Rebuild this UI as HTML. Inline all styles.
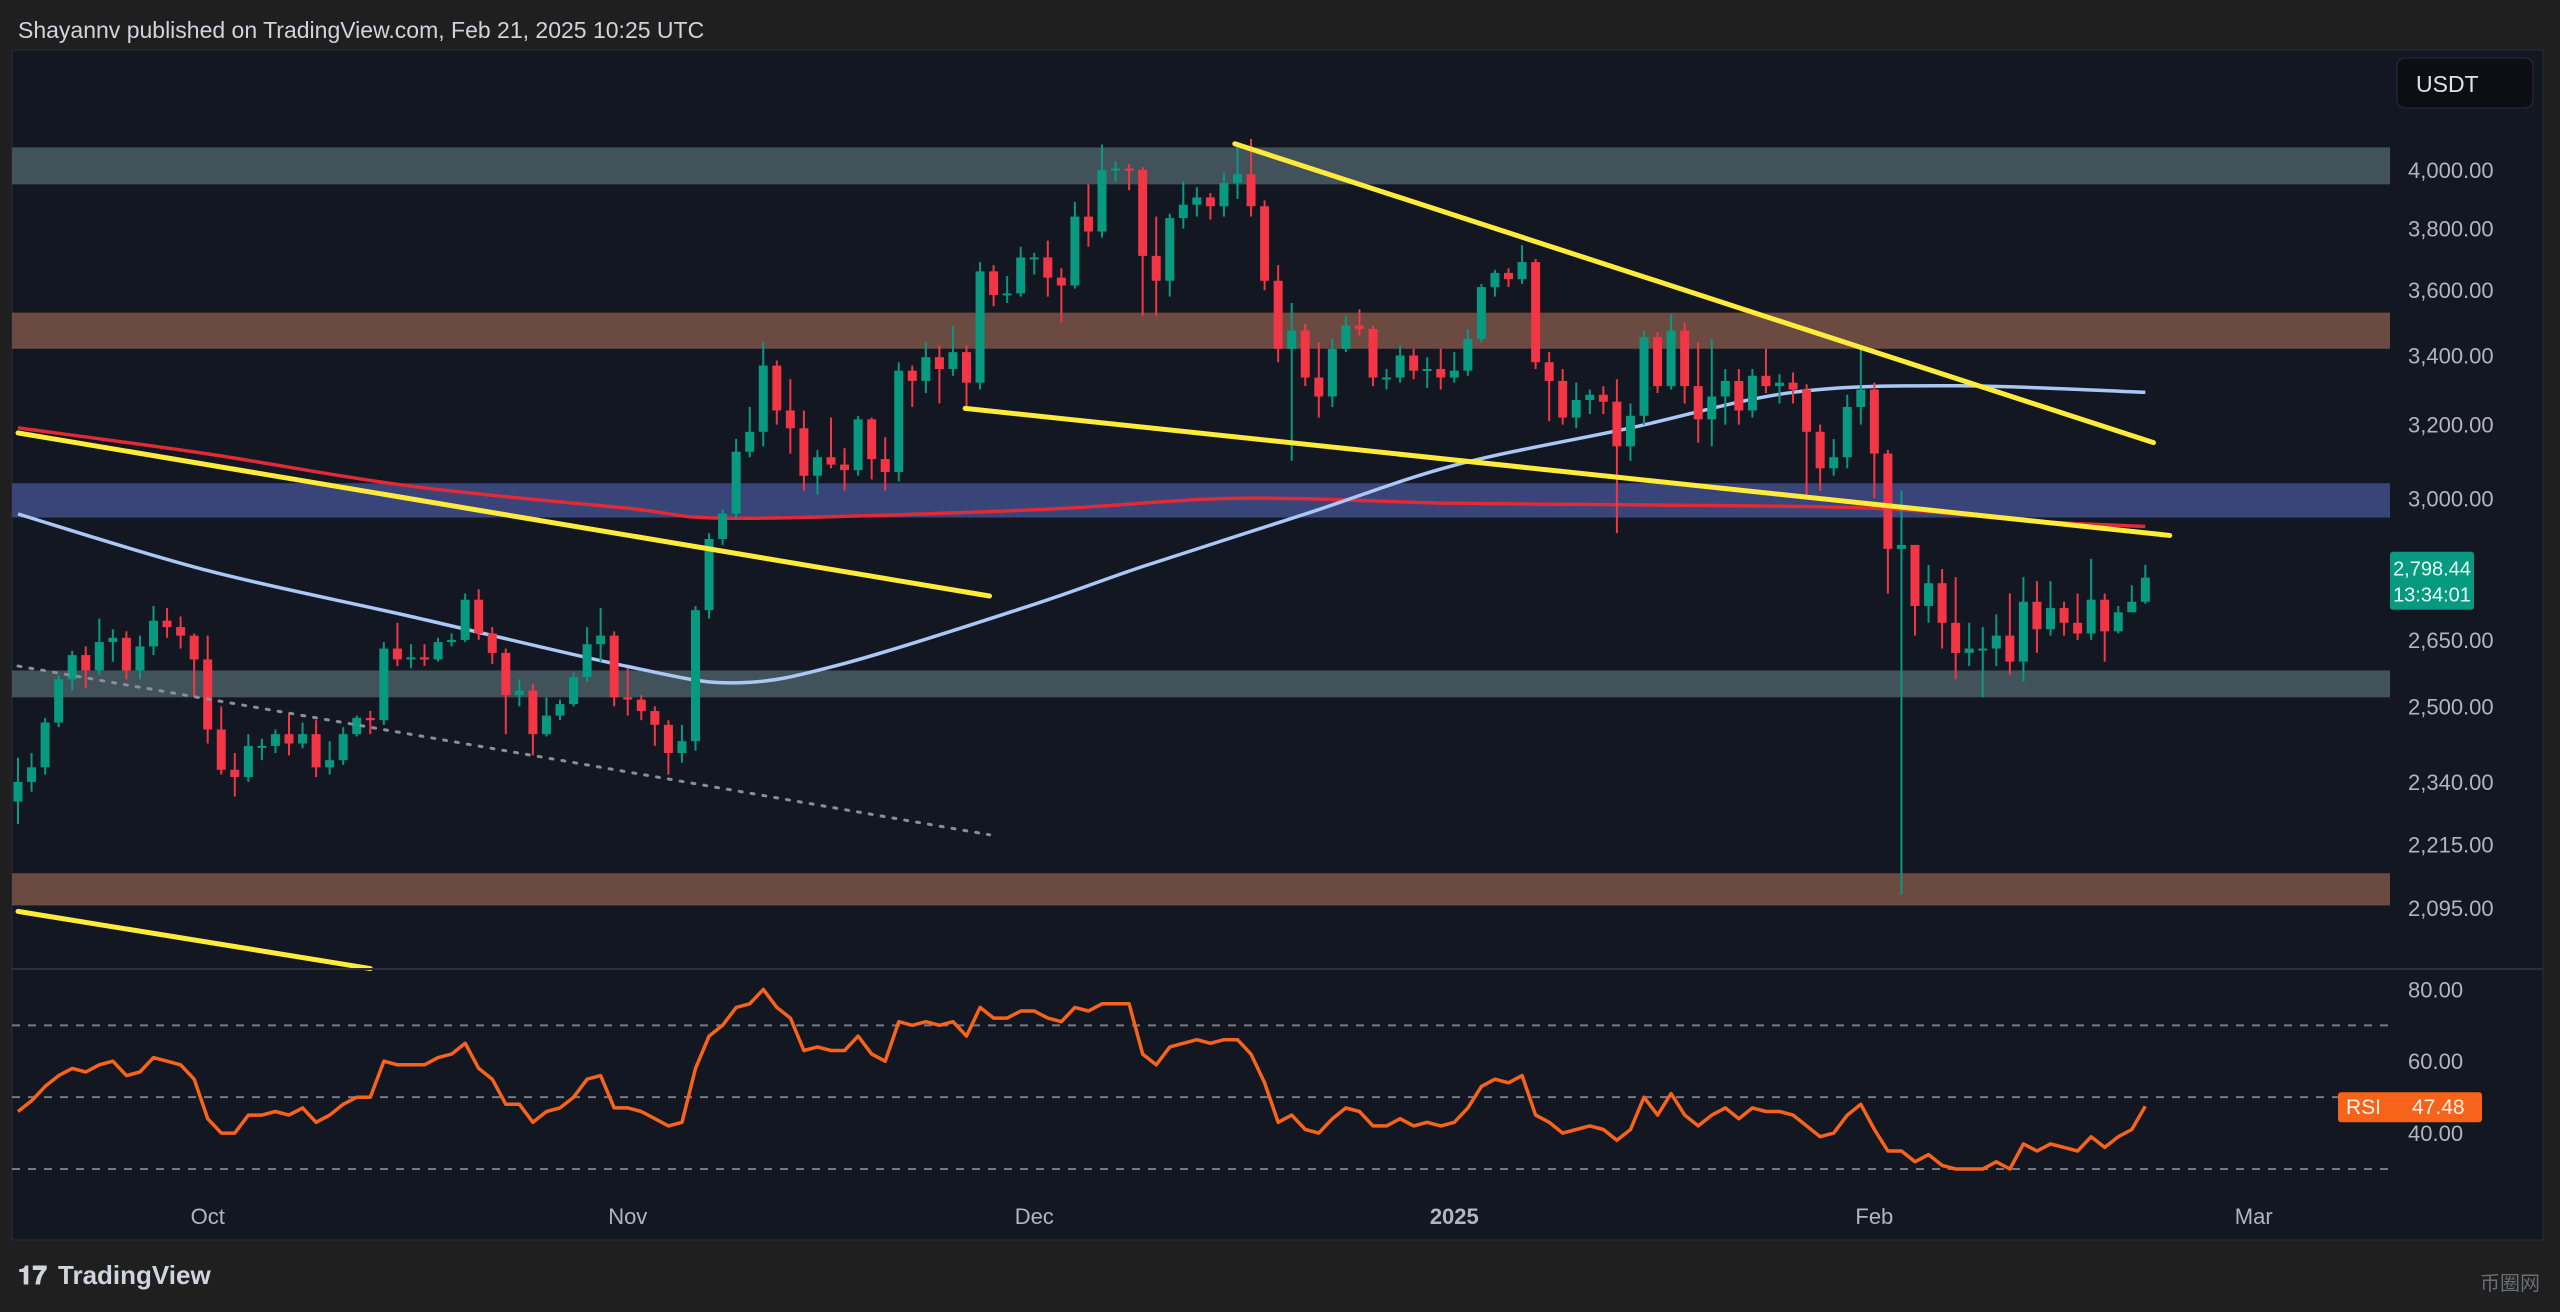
<!DOCTYPE html>
<html><head><meta charset="utf-8"><style>
html,body{margin:0;padding:0;background:#1f1f1f;}
body{width:2560px;height:1307px;overflow:hidden;font-family:"Liberation Sans","Noto Sans CJK SC",sans-serif;}
svg text{font-family:"Liberation Sans","Noto Sans CJK SC",sans-serif;}
</style></head><body>
<svg id="chart" width="2560" height="1307" viewBox="0 0 2560 1307" xmlns="http://www.w3.org/2000/svg">
<rect x="0" y="0" width="2560" height="1307" fill="#1f1f1f"/>
<text x="18" y="38" font-size="23" fill="#d1d4dc">Shayannv published on TradingView.com, Feb 21, 2025 10:25 UTC</text>
<rect x="12" y="50" width="2531" height="1190" fill="#131722" stroke="#2a2e39" stroke-width="1"/>
<g id="zones"></g>
<g id="lines"></g>
<g id="candles"></g>
<g id="overlays"></g>
<line x1="12" y1="969" x2="2543" y2="969" stroke="#2a2e39" stroke-width="2"/>
<g id="rsi"></g>
<g id="axes"></g>
<rect x="2397" y="58" width="136" height="50" rx="8" fill="#0c0e13" stroke="#2a2e39"/>
<text x="2416" y="92" font-size="23" fill="#e0e3eb">USDT</text>
<g>
<text x="18" y="1284" font-size="26" font-weight="bold" fill="#d1d4dc">𝟏𝟕</text>
<text x="58" y="1284" font-size="26" font-weight="bold" fill="#d1d4dc">TradingView</text>
</g>
<text x="2480" y="1290" font-size="20" fill="#6a6d73">币圈网</text>
</svg>
<script>
const closes=[2340,2370,2465,2560,2615,2580,2645,2655,2580,2635,2695,2680,2660,2605,
2450,2365,2350,2415,2415,2440,2420,2440,2370,2385,2440,2475,2470,2630,2605,2610,2605,2645,2650,2745,2665,2620,2525,2535,2440,2480,2505,2565,2640,2660,2520,
2515,2490,2460,2400,2425,2720,2895,2960,3125,3180,3370,3240,3190,3060,3110,3090,3075,3215,3105,3070,3355,3325,3395,3360,3410,3320,3660,3585,3590,3705,
3705,3640,3615,3840,3790,4000,4005,4000,3710,3630,3835,3880,3905,3875,3955,3985,3875,3630,3420,3475,3335,3280,3420,3490,3480,3335,3335,3400,3355,3360,3335,
3355,3450,3610,3655,3635,3690,3380,3325,3220,3270,3285,3265,3140,3225,3455,3310,3475,3310,3215,3280,3325,3240,3340,3310,3320,3300,3180,3080,3110,3250,3300,
3120,2870,2880,2730,2785,2690,2620,2630,2630,2660,2600,2740,2675,2725,2690,2665,2745,2670,2715,2740,2798.44];
const firstOpen=2300;
const highs=[2390,2400,2475,2570,2625,2635,2700,2675,2670,2660,2730,2725,2705,2665,
2660,2500,2400,2440,2430,2450,2485,2465,2470,2425,2455,2480,2490,2645,2690,2640,2640,2655,2665,2760,2770,2680,2630,2560,2550,2520,2515,2575,2680,2725,2670,
2585,2525,2500,2470,2460,2730,2910,2970,3160,3250,3440,3385,3330,3240,3130,3220,3135,3225,3220,3165,3380,3370,3440,3430,3490,3430,3690,3680,3645,3740,
3720,3760,3670,3890,3950,4090,4030,4020,4010,3840,3850,3960,3940,3920,3990,4100,4110,3895,3680,3560,3495,3440,3450,3520,3540,3490,3360,3430,3420,3395,3420,
3410,3480,3620,3665,3670,3745,3700,3410,3360,3320,3300,3310,3330,3260,3475,3470,3525,3500,3440,3450,3360,3360,3360,3420,3345,3350,3315,3200,3160,3285,3425,
3320,3130,3020,2880,2830,2820,2800,2690,2680,2710,2760,2800,2790,2790,2740,2760,2845,2760,2730,2780,2830];
const lows=[2255,2320,2355,2455,2535,2540,2570,2600,2560,2560,2615,2655,2630,2520,
2420,2355,2310,2340,2385,2400,2395,2410,2350,2355,2375,2435,2440,2460,2590,2585,2590,2600,2635,2645,2650,2595,2440,2500,2395,2435,2470,2500,2555,2600,2500,
2480,2470,2415,2355,2380,2405,2700,2880,2945,3110,3140,3200,3120,3020,3010,3080,3020,3060,3050,3020,3045,3250,3290,3260,3340,3250,3300,3550,3560,3580,
3650,3580,3500,3605,3740,3770,3960,3930,3520,3520,3580,3800,3840,3830,3840,3900,3840,3600,3380,3100,3310,3220,3250,3410,3460,3310,3300,3320,3330,3305,3300,
3320,3340,3440,3580,3610,3620,3360,3210,3200,3190,3230,3230,2910,3100,3200,3290,3300,3260,3150,3140,3200,3200,3220,3290,3260,3260,3000,3020,3060,3080,3200,
3000,2760,2120,2660,2690,2630,2560,2590,2520,2590,2570,2555,2620,2660,2660,2650,2650,2600,2665,2720,2735];
const rsiVals=[46,49,53,56,58,57,59,60,56,57,61,60,59,55,
44,40,40,45,45,46,45,47,43,45,48,50,50,60,59,59,59,61,62,65,58,55,48,48,43,46,47,50,55,56,47,
47,46,44,42,43,58,67,70,75,76,80,75,72,63,64,63,63,67,62,60,71,70,71,70,71,67,75,72,72,74,
74,72,71,75,74,76,76,76,62,59,64,65,66,65,66,66,62,54,43,45,41,40,44,47,46,42,42,44,42,43,42,
43,47,53,55,54,56,45,43,40,41,42,41,38,41,50,45,51,45,42,45,47,44,47,46,46,45,42,39,40,45,48,
41,35,35,32,34,31,30,30,30,32,30,37,35,37,36,35,39,36,39,41,47.48];
const ma100Days=[0,14,29,45,53,61,75,83,95,106,119,131,143,157];
const ma100Vals=[2959,2816,2705,2589,2552,2596,2734,2826,2959,3088,3191,3292,3311,3292];
const ma200Days=[0,14,29,45,53,75,90,106,119,137,149,157];
const ma200Vals=[3191,3119,3032,2974,2948,2970,3000,2987,2983,2974,2940,2927];
const priceTicks=[4000,3800,3600,3400,3200,3000,2650,2500,2340,2215,2095];
const rsiTicks=[80,60,40];
const timeLabels=["Oct","Nov","Dec","2025","Feb","Mar"];
const timeDays=[14,45,75,106,137,165];
const zoneTops=[4080,3530,3040,2580,2160];
const zoneBottoms=[3950,3420,2950,2520,2100];
const zoneColors=["#42525a","#6b4a42","#394479","#42525a","#6b4a42"];
const trendFrom=[[0,3177],[69.9,3246],[89.8,4093],[0,2089]];
const trendTo=[[71.7,2754],[158.8,2904],[157.6,3150],[26,1987]];
const dottedFrom=[0,2590], dottedTo=[71.7,2234];

const NS="http://www.w3.org/2000/svg";
const X=d=>18+d*13.55;
const Y=p=>170+Math.log(4000/p)*1141.3;
const RY=v=>989.4+(80-v)*3.592;
const PR=2390;
function mk(tag,attrs,parent){const e=document.createElementNS(NS,tag);for(const k in attrs)e.setAttribute(k,attrs[k]);parent.appendChild(e);return e;}
const G=id=>document.getElementById(id);

zoneTops.forEach((t,i)=>{
 const r=mk('rect',{x:12,y:Y(t),width:PR-12,height:Y(zoneBottoms[i])-Y(t),fill:zoneColors[i]},G('zones'));
 
 
});
function smoothPath(days,vals){
 const p=days.map((d,i)=>[X(d),Y(vals[i])]);
 let s='M'+p[0][0].toFixed(1)+','+p[0][1].toFixed(1);
 for(let i=0;i<p.length-1;i++){
  const p0=p[Math.max(0,i-1)],p1=p[i],p2=p[i+1],p3=p[Math.min(p.length-1,i+2)];
  const c1=[p1[0]+(p2[0]-p0[0])/6,p1[1]+(p2[1]-p0[1])/6];
  const c2=[p2[0]-(p3[0]-p1[0])/6,p2[1]-(p3[1]-p1[1])/6];
  s+=' C'+c1.map(v=>v.toFixed(1)).join(',')+' '+c2.map(v=>v.toFixed(1)).join(',')+' '+p2.map(v=>v.toFixed(1)).join(',');
 }
 return s;
}
const m200=mk('path',{d:smoothPath(ma200Days,ma200Vals),fill:'none',stroke:'#e02a35','stroke-width':3.5},G('lines'));


const m100=mk('path',{d:smoothPath(ma100Days,ma100Vals),fill:'none',stroke:'#a9c8f5','stroke-width':3.5},G('lines'));


closes.forEach((c,i)=>{
 const o=i===0?firstOpen:closes[i-1];
 const up=c>=o, col=up?'#089981':'#f23645', x=X(i);
 const g=mk('g',{},G('candles'));
 
 
 mk('line',{x1:x,x2:x,y1:Y(highs[i]),y2:Y(lows[i]),stroke:col,'stroke-width':2},g);
 const top=Y(Math.max(o,c)),bot=Y(Math.min(o,c));
 mk('rect',{x:x-4.5,y:top,width:9,height:Math.max(2,bot-top),fill:col},g);
});
trendFrom.forEach((f,i)=>{
 const l=mk('line',{x1:X(f[0]),y1:Y(f[1]),x2:X(trendTo[i][0]),y2:Y(trendTo[i][1]),stroke:'#ffeb3b','stroke-width':5,'stroke-linecap':'round'},G('overlays'));
 
 
});
const dl=mk('line',{x1:X(dottedFrom[0]),y1:Y(dottedFrom[1]),x2:X(dottedTo[0]),y2:Y(dottedTo[1]),stroke:'#8a8e99','stroke-width':3,'stroke-dasharray':'3 9','stroke-linecap':'round'},G('overlays'));


priceTicks.forEach(p=>{
 const t=mk('text',{x:2408,y:Y(p)+8,'font-size':22,fill:'#b2b5be'},G('axes'));
 
 
 t.textContent=p.toLocaleString('en-US',{minimumFractionDigits:2});
});
const last=closes[closes.length-1];
const lb=mk('rect',{x:2390,y:Y(last)-26,width:84,height:58,rx:3,fill:'#089981'},G('axes'));


const lt=mk('text',{x:2432,y:Y(last)-2,'font-size':20,fill:'#e8fff8','text-anchor':'middle'},G('axes'));


lt.textContent=last.toLocaleString('en-US',{minimumFractionDigits:2});
const lc=mk('text',{x:2432,y:Y(last)+24,'font-size':20,fill:'#e8fff8','text-anchor':'middle'},G('axes'));


lc.textContent='13:34:01';
timeLabels.forEach((s,i)=>{
 const t=mk('text',{x:X(timeDays[i]),y:1224,'font-size':22,fill:'#b2b5be','text-anchor':'middle','font-weight':s==='2025'?'bold':'normal'},G('axes'));
 
 
 t.textContent=s;
});
[70,50,30].forEach(v=>{
 const l=mk('line',{x1:12,x2:PR,y1:RY(v),y2:RY(v),stroke:'#787b86','stroke-width':2,'stroke-dasharray':'8 8'},G('rsi'));
 
 
});
rsiTicks.forEach(v=>{
 const t=mk('text',{x:2408,y:RY(v)+8,'font-size':22,fill:'#b2b5be'},G('axes'));
 
 
 t.textContent=v.toFixed(2);
});
const rl=mk('polyline',{points:rsiVals.map((v,i)=>X(i).toFixed(1)+','+RY(v).toFixed(1)).join(' '),fill:'none',stroke:'#f7631b','stroke-width':3.5,'stroke-linejoin':'round'},G('rsi'));


const rv=rsiVals[rsiVals.length-1];
const rb=mk('rect',{x:2338,y:RY(rv)-14,width:144,height:30,rx:3,fill:'#f7631b'},G('axes'));


const rt1=mk('text',{x:2346,y:RY(rv)+8,'font-size':21,fill:'#fff3ea'},G('axes'));


rt1.textContent='RSI';
const rt2=mk('text',{x:2412,y:RY(rv)+8,'font-size':21,fill:'#fff3ea'},G('axes'));


rt2.textContent=rv.toFixed(2);
</script>
</body></html>
